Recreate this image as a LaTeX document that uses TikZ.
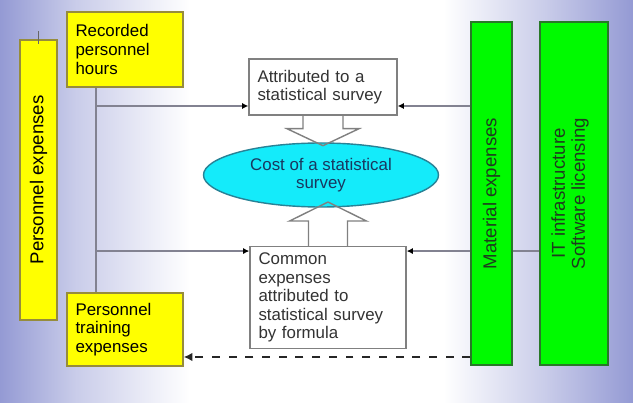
\documentclass[tikz,border=0pt]{standalone}
\usepackage{fontspec}
\setmainfont{Liberation Sans}
\usetikzlibrary{shapes.geometric,arrows.meta}

\definecolor{lav}{RGB}{148,154,212}
\definecolor{boxyellow}{RGB}{255,255,0}
\definecolor{yellowedge}{RGB}{150,140,60}
\definecolor{boxgreen}{RGB}{0,250,0}
\definecolor{greenedge}{RGB}{40,120,40}
\definecolor{greentext}{RGB}{30,60,30}
\definecolor{costfill}{RGB}{20,235,250}
\definecolor{costedge}{RGB}{40,130,150}
\definecolor{costtext}{RGB}{25,55,95}
\definecolor{linegray}{RGB}{130,130,145}

% lavender at both sides, white in the middle
\pgfdeclarehorizontalshading{backdrop}{100bp}{color(0bp)=(lav); color(25bp)=(lav);
    color(31bp)=(lav!50!white); color(40bp)=(white); color(60bp)=(white);
    color(68bp)=(lav!50!white); color(75bp)=(lav); color(100bp)=(lav)}

\begin{document}
\begin{tikzpicture}[
    txt/.style={font=\fontsize{9.6}{10.6}\selectfont},
    bigtxt/.style={font=\fontsize{10.6}{11.4}\selectfont, rotate=90, align=center},
    yellowbox/.style={draw=yellowedge, fill=boxyellow, line width=0.8pt},
    greenbox/.style={draw=greenedge, fill=boxgreen, line width=0.8pt},
    whitebox/.style={draw=gray, fill=white, line width=0.8pt, text=black!80},
    note/.style={txt, align=left, inner xsep=0.17cm},
    wire/.style={draw=linegray, line width=0.8pt},
    feed/.style={wire, -{Latex[length=3.5pt,width=3.5pt,color=black]}},
    dashfeed/.style={draw=black!85, line width=1.1pt, dash pattern=on 4.5pt off 5pt,
        -{Latex[length=5pt,width=5pt]}},
    hollow/.style={draw=gray, line width=0.8pt}
]
    % background
    \shade[shading=backdrop] (0,0) rectangle (12.66,-8.06);

    % personnel side
    \node[yellowbox, minimum width=0.74cm, minimum height=5.60cm] (pers) at (0.77,-3.60) {};
    \node[bigtxt] (persText) at (pers.center) {Personnel expenses};
    \draw[draw=black!60, line width=0.8pt] ([yshift=0.16cm]pers.north) -- ([yshift=-0.10cm]pers.north);

    \node[yellowbox, note, text width=1.98cm, minimum height=1.50cm] (rec) at (2.50,-0.99)
        {Recorded\\personnel\\hours};
    \node[yellowbox, note, text width=1.98cm, minimum height=1.46cm] (train) at (2.50,-6.59)
        {Personnel\\training\\expenses};

    % middle
    \node[whitebox, note, text width=2.62cm, minimum height=1.12cm] (attr) at (6.46,-1.74)
        {Attributed to a\\statistical survey};
    \node[whitebox, note, text width=2.78cm, minimum height=1.98cm] (common) at (6.56,-5.95)
        {Common\\expenses\\attributed to\\statistical survey\\by formula};
    \node[ellipse, draw=costedge, fill=costfill, line width=0.8pt, minimum width=4.70cm,
        minimum height=1.28cm, inner sep=0pt, txt, text=costtext, align=center] (cost)
        at (6.42,-3.50) {Cost of a statistical\\survey};

    % material side
    \node[greenbox, minimum width=0.82cm, minimum height=6.86cm] (mat) at (9.83,-3.87) {};
    \node[bigtxt, text=greentext] (matText) at (mat.center) {Material expenses};
    \node[greenbox, minimum width=1.36cm, minimum height=6.86cm] (it) at (11.48,-3.87) {};
    \node[bigtxt, text=greentext] (itText) at (11.40,-3.87) {IT infrastructure\\Software licensing};

    % connectors
    \coordinate (spine) at (1.92,0);
    \coordinate (attrL) at ([yshift=-0.38cm]attr.west);
    \coordinate (attrR) at ([yshift=-0.38cm]attr.east);
    \coordinate (comL) at ([yshift=-0.10cm]common.north west);
    \coordinate (comR) at ([yshift=-0.10cm]common.north east);
    \coordinate (trainR) at ([yshift=-0.55cm]train.east);

    \draw[wire] (rec.south -| spine) -- (train.north -| spine);
    \draw[feed] (attrL -| spine) -- (attrL);
    \draw[feed] (attrR -| mat.west) -- (attrR);
    \draw[feed] (comL -| spine) -- (comL);
    \draw[feed] (comR -| mat.west) -- (comR);
    \draw[wire] (comR -| mat.east) -- (comR -| it.west);
    \draw[dashfeed] (trainR -| mat.west) -- (trainR);

    % block arrows into the ellipse
    \draw[hollow] ([xshift=-0.40cm]attr.south) -- ++(0,-0.26) -- ++(-0.32,0) -- ++(0.72,-0.34)
        -- ++(0.72,0.34) -- ++(-0.32,0) -- ++(0,0.26);
    \draw[hollow] ([xshift=-0.39cm]common.north) -- ++(0,0.50) -- ++(-0.38,0) -- ++(0.77,0.38)
        -- ++(0.77,-0.38) -- ++(-0.38,0) -- ++(0,-0.50);
\end{tikzpicture}
\end{document}
